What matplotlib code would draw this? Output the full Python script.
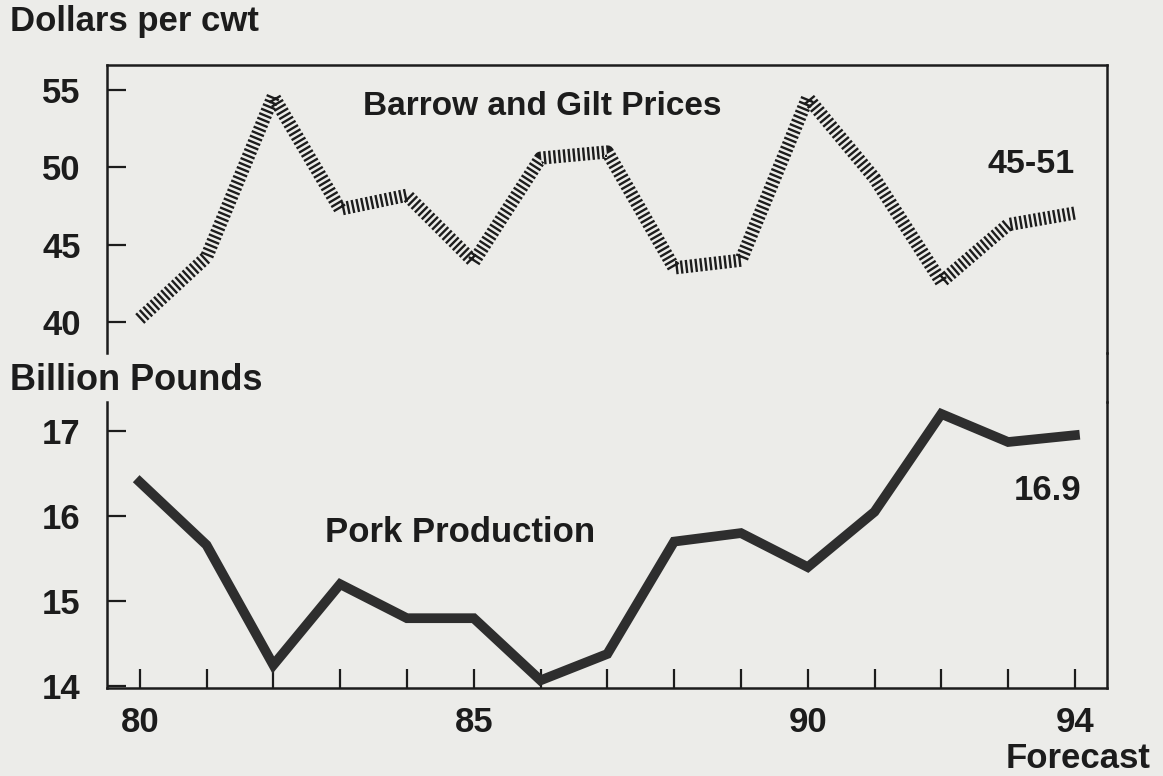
import matplotlib
matplotlib.use("Agg")
import matplotlib.pyplot as plt
from matplotlib.lines import Line2D

plt.rcParams['font.family'] = ['Liberation Sans', 'DejaVu Sans']
plt.rcParams['font.weight'] = 'bold'
plt.rcParams['lines.scale_dashes'] = False

# dane
lata = list(range(80, 95))
ceny = [40.2, 44.2, 54.6, 47.3, 48.2, 43.9, 50.6, 51.0, 43.5, 44.0, 54.5, 49.3, 42.6, 46.3, 47.05]
produkcja = [16.4, 15.66, 14.25, 15.2, 14.8, 14.8, 14.07, 14.38, 15.7, 15.8, 15.4, 16.05, 17.2, 16.87, 16.95]
lata_opis = [80, 85, 90, 94]
ceny_ticks = [40, 45, 50, 55]
prod_ticks = [14, 15, 16, 17]

tlo = '#ecece9'
kolor = '#1c1c1c'
W, H = 1163, 776

fig = plt.figure(figsize=(W / 100, H / 100), dpi=100, facecolor=tlo)

def box(x0, y0, x1, y1):
    return [x0 / W, 1 - y1 / H, (x1 - x0) / W, (y1 - y0) / H]

# gorny panel - ceny
ax1 = fig.add_axes(box(107, 65, 1107, 353))
ax1.set_facecolor(tlo)
ax1.plot(lata, ceny, color=kolor, lw=9.5, dashes=(1.7, 1.8), solid_capstyle='butt',
         dash_capstyle='butt')
ax1.set_xlim(79.51, 94.48)
ax1.set_ylim(38.0, 56.62)
ax1.set_yticks(ceny_ticks)
ax1.set_xticks([])
ax1.spines['bottom'].set_visible(False)
for s in ['left', 'top', 'right']:
    ax1.spines[s].set_linewidth(1.8)
    ax1.spines[s].set_color(kolor)
ax1.tick_params(axis='y', direction='in', length=14, width=1.6, pad=19,
                labelsize=25, colors=kolor)

# dolny panel - produkcja
ax2 = fig.add_axes(box(107, 402, 1107, 688))
ax2.set_facecolor(tlo)
ax2.plot(lata, produkcja, color='#2e2e2e', lw=7, solid_joinstyle='miter')
ax2.set_xlim(79.51, 94.48)
ax2.set_ylim(13.98, 17.34)
ax2.set_yticks(prod_ticks)
ax2.set_xticks(lata, minor=True)
ax2.set_xticks(lata_opis)
ax2.spines['top'].set_visible(False)
for s in ['left', 'bottom', 'right']:
    ax2.spines[s].set_linewidth(1.8)
    ax2.spines[s].set_color(kolor)
ax2.tick_params(axis='both', which='both', direction='in', length=14, width=1.6,
                labelsize=25, colors=kolor)
ax2.tick_params(axis='y', pad=19)
ax2.tick_params(axis='x', pad=13)

# prawa krawedz miedzy panelami
fig.add_artist(Line2D([1107 / W, 1107 / W], [1 - 402 / H, 1 - 353 / H],
                      color=kolor, lw=1.8, transform=fig.transFigure))

# opisy
fig.text(10 / W, 1 - 22 / H, 'Dollars per cwt', fontsize=25, va='center', ha='left', color=kolor)
fig.text(10 / W, 1 - 380 / H, 'Billion Pounds', fontsize=26, va='center', ha='left', color=kolor)
ax1.text(0.435, 1 - 42 / 288, 'Barrow and Gilt Prices', transform=ax1.transAxes,
         fontsize=24, ha='center', va='center', color=kolor)
ax1.text(94.0, 50.2, '45-51', fontsize=24.5, ha='right', va='center', color=kolor)
ax2.text(0.353, 1 - 130 / 286, 'Pork Production', transform=ax2.transAxes,
         fontsize=25, ha='center', va='center', color=kolor)
ax2.text(94.1, 16.3, '16.9', fontsize=25, ha='right', va='center', color=kolor)
fig.text(1078 / W, 1 - 758 / H, 'Forecast', fontsize=25, ha='center', va='center', color=kolor)

fig.savefig('out.png', dpi=100, facecolor=tlo)
